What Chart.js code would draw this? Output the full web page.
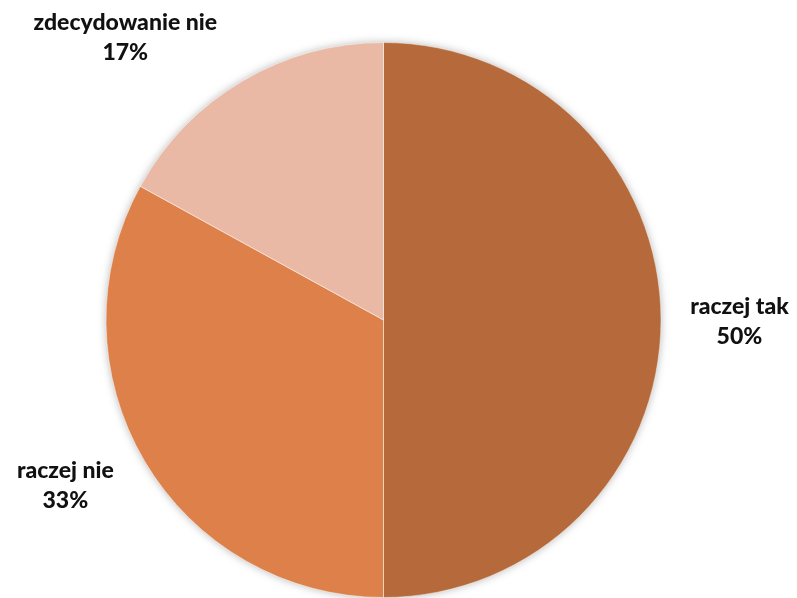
<!DOCTYPE html>
<html>
<head>
<meta charset="utf-8">
<script src="https://cdn.jsdelivr.net/npm/chart.js@4/dist/chart.umd.min.js"></script>
<style>
html,body{margin:0;padding:0;background:#fff;}
#wrap{width:797px;height:598px;}
</style>
</head>
<body>
<div id="wrap"><canvas id="c" width="797" height="598"></canvas></div>
<script>
const categories = ['raczej tak', 'raczej nie', 'zdecydowanie nie'];
const values = [50, 33, 17];
const percentLabels = ['50%', '33%', '17%'];
const colors = ['#B66A3B', '#DD8049', '#E9B9A6'];
// label placement nudges (px) relative to the outward anchor
const labelNudge = [[-2, 2], [-10, -17], [-76, 26]];

const shadowPlugin = {
  id: 'pieShadow',
  beforeDatasetsDraw(chart) {
    const arc = chart.getDatasetMeta(0).data[0];
    if (!arc) return;
    const ctx = chart.ctx;
    ctx.save();
    ctx.shadowColor = 'rgba(0,0,0,0.35)';
    ctx.shadowBlur = 10;
    ctx.beginPath();
    ctx.arc(arc.x, arc.y, arc.outerRadius - 1, 0, Math.PI * 2);
    ctx.fillStyle = '#ffffff';
    ctx.fill();
    ctx.restore();
  }
};

const labelPlugin = {
  id: 'outLabels',
  afterDatasetsDraw(chart) {
    const ctx = chart.ctx;
    const meta = chart.getDatasetMeta(0);
    ctx.save();
    ctx.font = '900 23px Lato, "DejaVu Sans", sans-serif';
    ctx.fillStyle = '#111111';
    ctx.textAlign = 'center';
    ctx.textBaseline = 'middle';
    meta.data.forEach((arc, i) => {
      const mid = (arc.startAngle + arc.endAngle) / 2;
      const r = arc.outerRadius * 1.29;
      let x = arc.x + Math.cos(mid) * r + labelNudge[i][0];
      let y = arc.y + Math.sin(mid) * r + labelNudge[i][1];
      const w = Math.max(ctx.measureText(categories[i]).width, ctx.measureText(percentLabels[i]).width);
      x = Math.min(Math.max(x, w / 2 + 4), chart.width - w / 2 - 4);
      ctx.fillText(categories[i], x, y - 15);
      ctx.fillText(percentLabels[i], x, y + 15);
    });
    ctx.restore();
  }
};

new Chart(document.getElementById('c'), {
  type: 'pie',
  data: {
    labels: categories,
    datasets: [{
      data: values,
      backgroundColor: colors,
      borderColor: 'rgba(255,255,255,0.45)',
      borderWidth: 1
    }]
  },
  options: {
    responsive: false,
    animation: false,
    layout: { padding: { top: 42, bottom: 0, left: 0, right: 30 } },
    plugins: { legend: { display: false }, tooltip: { enabled: false } }
  },
  plugins: [shadowPlugin, labelPlugin]
});
</script>
</body>
</html>
